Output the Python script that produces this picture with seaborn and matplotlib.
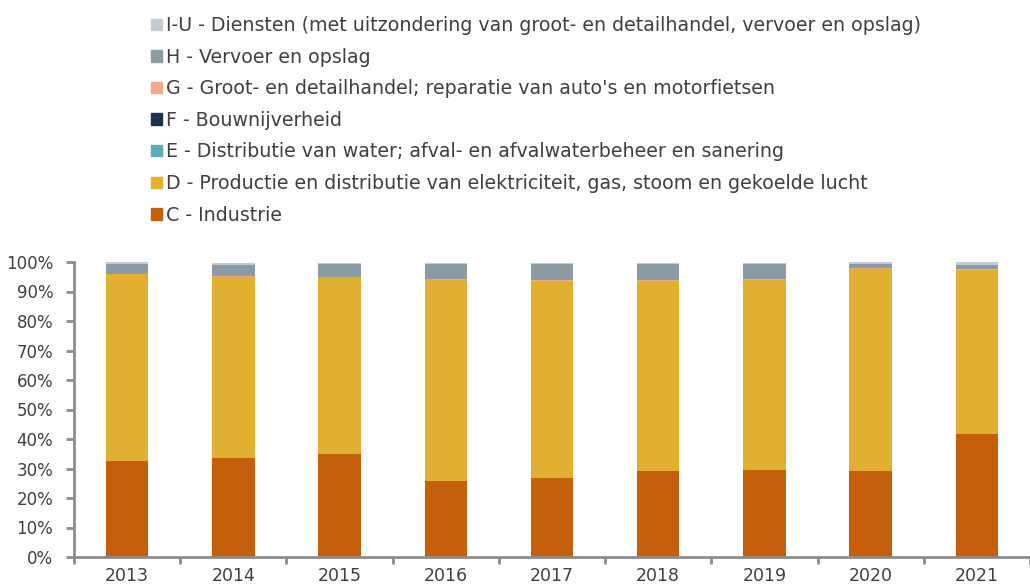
import pandas as pd
import matplotlib.pyplot as plt
import matplotlib.patches as mpatches
from matplotlib.ticker import PercentFormatter
import numpy as np
import seaborn as sns

# data (share in %)
years = ['2013', '2014', '2015', '2016', '2017', '2018', '2019', '2020', '2021']
c_industrie = [32.7, 33.4, 34.9, 25.8, 26.9, 29.3, 29.6, 29.2, 41.6]
d_energie = [63.1, 61.5, 59.9, 68.2, 66.6, 64.1, 64.4, 68.4, 55.7]
e_water = [0.0, 0.0, 0.0, 0.0, 0.0, 0.0, 0.0, 0.0, 0.0]
f_bouw = [0.0, 0.0, 0.0, 0.0, 0.0, 0.0, 0.0, 0.0, 0.0]
g_handel = [0.1, 0.2, 0.1, 0.1, 0.4, 0.4, 0.3, 0.2, 0.3]
h_vervoer = [3.4, 3.9, 4.4, 5.1, 5.3, 5.4, 4.9, 1.6, 1.5]
iu_diensten = [0.6, 0.8, 0.5, 0.6, 0.6, 0.6, 0.6, 0.5, 0.8]

labels = [
    'C - Industrie',
    'D - Productie en distributie van elektriciteit, gas, stoom en gekoelde lucht',
    'E - Distributie van water; afval- en afvalwaterbeheer en sanering',
    'F - Bouwnijverheid',
    "G - Groot- en detailhandel; reparatie van auto's en motorfietsen",
    'H - Vervoer en opslag',
    'I-U - Diensten (met uitzondering van groot- en detailhandel, vervoer en opslag)',
]
series = [c_industrie, d_energie, e_water, f_bouw, g_handel, h_vervoer, iu_diensten]
colors = ['#C55F0B', '#E1B033', '#5BA9B9', '#1B3152', '#F4AA88', '#8A9BA5', '#C2CBD2']

df = pd.DataFrame(dict(zip(labels, series)), index=years)
cum = df.cumsum(axis=1)

sns.set_style('white')
plt.rcParams['font.family'] = ['DejaVu Sans']

fig = plt.figure(figsize=(10.3, 5.85), dpi=100)
ax = fig.add_axes([74 / 1030, 28 / 585, 956 / 1030, 295 / 585])

# stacked bars: draw cumulative totals from top layer down
for lab, col in zip(labels[::-1], colors[::-1]):
    sns.barplot(x=years, y=cum[lab].values, color=col, width=0.4,
                saturation=1, linewidth=0, ax=ax)

ax.set_ylim(0, 100)
ax.set_xlim(-0.5, 8.45)
ax.set_yticks(np.arange(0, 101, 10))
ax.yaxis.set_major_formatter(PercentFormatter(100, decimals=0))

ax.set_xticks(np.arange(-0.5, 9, 1), minor=True)
ax.tick_params(axis='x', which='major', length=0, labelsize=12.5, colors='#404040', pad=7)
ax.tick_params(axis='x', which='minor', length=5, width=2, color='#8c8c8c', direction='out')
ax.tick_params(axis='y', length=6, width=2, color='#8c8c8c', direction='out',
               labelsize=12, labelcolor='#404040', pad=9)
ax.tick_params(bottom=True, left=True, which='both')

for side in ['top', 'right']:
    ax.spines[side].set_visible(False)
for side in ['left', 'bottom']:
    ax.spines[side].set_color('#8c8c8c')
    ax.spines[side].set_linewidth(2)

handles = [mpatches.Patch(color=c, label=l) for l, c in zip(labels, colors)][::-1]
fig.legend(handles=handles, loc='upper left', bbox_to_anchor=(135 / 1030, 1.0),
           frameon=False, fontsize=13.7, labelcolor='#404040', handlelength=0.55,
           handleheight=0.55, handletextpad=0.25, labelspacing=0.66, borderpad=0.35)

plt.savefig('out.png', dpi=100)
